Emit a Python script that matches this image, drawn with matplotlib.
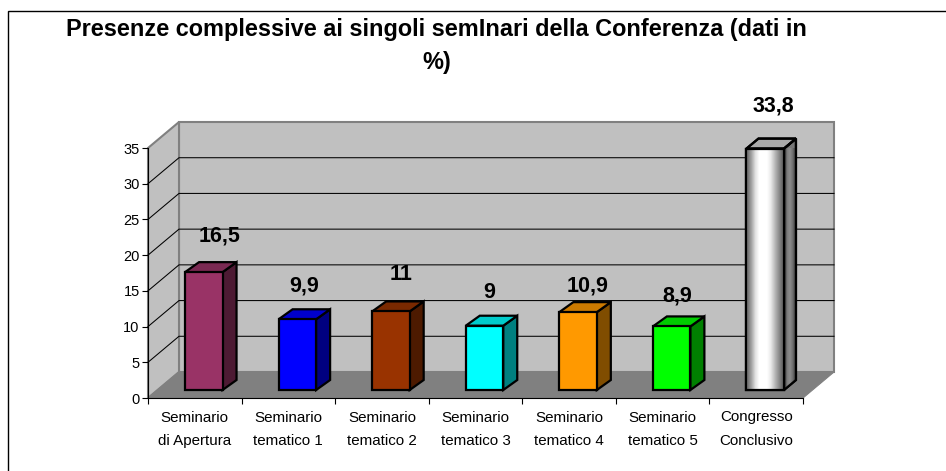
import numpy as np
import matplotlib
matplotlib.use("Agg")
import matplotlib.pyplot as plt
from matplotlib.lines import Line2D
from matplotlib.patches import Polygon, Rectangle

categories = ["Seminario\ndi Apertura", "Seminario\ntematico 1", "Seminario\ntematico 2",
              "Seminario\ntematico 3", "Seminario\ntematico 4", "Seminario\ntematico 5",
              "Congresso\nConclusivo"]
values = [16.5, 9.9, 11, 9, 10.9, 8.9, 33.8]
value_labels = ["16,5", "9,9", "11", "9", "10,9", "8,9", "33,8"]
front_colors = ["#993366", "#0000FF", "#993300", "#00FFFF", "#FF9900", "#00FF00", "#FFFFFF"]
side_colors = ["#4D1A33", "#000080", "#4D1A00", "#008080", "#804D00", "#008000", "#777777"]
top_colors = ["#7A2952", "#0000CC", "#7A2900", "#00CCCC", "#CC7A00", "#00CC00", "#AAAAAA"]
yticks = [0, 5, 10, 15, 20, 25, 30, 35]
title = "Presenze complessive ai singoli semInari della Conferenza (dati in\n%)"

W, H = 946, 471
plt.rcParams['font.family'] = ['Liberation Sans', 'DejaVu Sans']
fig = plt.figure(figsize=(W / 100, H / 100), dpi=100, facecolor="white")

# Frame: only its top and left edges fall inside the picture
fig.add_artist(Line2D([7.5 / W, 7.5 / W, 1], [0, 1 - 10.5 / H, 1 - 10.5 / H],
                      transform=fig.transFigure, color="black", lw=1,
                      solid_joinstyle="miter"))

L, R, T, B = 148, 803, 148, 398
ax = fig.add_axes([L / W, 1 - B / H, (R - L) / W, (B - T) / H])
ax.patch.set_visible(False)
for s in ["top", "right"]:
    ax.spines[s].set_visible(False)
for s in ["left", "bottom"]:
    ax.spines[s].set_linewidth(0.8)
    ax.spines[s].set_zorder(2)

pxx = 7 / (R - L)
pxy = 35 / (B - T)
DX, DY = 31 * pxx, 26 * pxy
ymax = 35

# Walls
ax.add_patch(Polygon([(DX, DY), (7 + DX, DY), (7 + DX, ymax + DY), (DX, ymax + DY)],
                     fc="#C0C0C0", ec="#808080", lw=1.5, clip_on=False, zorder=0))
ax.add_patch(Polygon([(0, 0), (DX, DY), (DX, ymax + DY), (0, ymax)],
                     fc="#C0C0C0", ec="#808080", lw=1.5, clip_on=False, zorder=0))
ax.add_patch(Polygon([(0, 0), (7, 0), (7 + DX, DY), (DX, DY)],
                     fc="#808080", ec="#808080", lw=0.8, clip_on=False, zorder=0.5))

# Gridlines
for y in yticks[1:-1]:
    ax.plot([0, DX, 7 + DX], [y, y + DY, y + DY], color="black", lw=0.75,
            clip_on=False, zorder=1, solid_joinstyle="miter")

# Bars
bw = 37.5 * pxx
bdx, bdy = 14 * pxx, 10 * pxy
ox, oy = 9 * pxx, 8 * pxy
centers = np.arange(7) + 0.5
lefts = centers + ox - bw / 2
lw = 1.6


def gradient_face(levels, extent, poly, zorder):
    im = ax.imshow(np.array(levels)[None, :], cmap="gray", vmin=0, vmax=1, extent=extent,
                   aspect="auto", interpolation="bilinear", zorder=zorder, clip_on=True)
    im.set_clip_path(poly)


for i, v in enumerate(values):
    depth_x = bdx if i < 6 else 12 * pxx
    x0, x1, y0, y1 = lefts[i], lefts[i] + bw, oy, oy + v
    side = Polygon([(x1, y0), (x1 + depth_x, y0 + bdy), (x1 + depth_x, y1 + bdy), (x1, y1)],
                   fc=side_colors[i], ec="black", lw=lw, clip_on=False, zorder=3)
    top = Polygon([(x0, y1), (x1, y1), (x1 + depth_x, y1 + bdy), (x0 + depth_x, y1 + bdy)],
                  fc=top_colors[i], ec="black", lw=lw, clip_on=False, zorder=3)
    ax.add_patch(side)
    ax.add_patch(top)
    ax.bar(x0, v, width=bw, bottom=y0, align="edge", color=front_colors[i],
           edgecolor="black", linewidth=lw, zorder=4, clip_on=False)
    if i == 6:
        gradient_face([0.45, 0.65, 0.88, 1, 1, 1, 0.92, 0.75, 0.58, 0.42],
                      [x0, x1, y0, y1], Rectangle((x0, y0), bw, v, transform=ax.transData), 4.2)
        ax.add_patch(Rectangle((x0, y0), bw, v, fill=False, ec="black", lw=lw,
                               zorder=4.5, clip_on=False))
        gradient_face([0.4, 0.6, 0.75, 0.85, 0.75, 0.6, 0.4],
                      [x0, x1 + depth_x, y1, y1 + bdy], top, 3.2)
        gradient_face([0.3, 0.5, 0.55, 0.45, 0.3],
                      [x1, x1 + depth_x, y0, y1 + bdy], side, 3.2)
        for face in (side, top):
            ax.add_patch(Polygon(face.get_xy(), fill=False, ec="black", lw=lw,
                                 clip_on=False, zorder=3.5))

ax.set_xlim(0, 7)
ax.set_ylim(0, 35)

# Value labels: pixel offsets from each bar's top centre
label_dx = [15.5, 6.3, 10, 5, 9, 6, 8]
label_dy = [36, 33, 37, 33, 26, 30, 43]
for i, v in enumerate(values):
    ax.annotate(value_labels[i], (lefts[i] + bw / 2, oy + v),
                xytext=(label_dx[i] * 0.72, label_dy[i] * 0.72), textcoords="offset points",
                ha="center", va="center", fontsize=15.5, fontweight="bold",
                color="black", zorder=6, annotation_clip=False)

# Axes ticks
ax.set_yticks(yticks)
ax.set_yticklabels([str(t) for t in yticks], fontsize=10.5)
ax.tick_params(axis="y", length=4, width=0.8, pad=2)
ax.set_xticks(np.arange(8))
ax.set_xticklabels([])
ax.tick_params(axis="x", which="major", length=4.5, width=0.8)
ax.set_xticks(centers, minor=True)
ax.set_xticklabels(categories, minor=True, fontsize=10.9, linespacing=1.85)
ax.tick_params(axis="x", which="minor", length=0, pad=9)

fig.text(436.5 / W, 1 - 46 / H, title, ha="center", va="center", fontsize=16.9,
         fontweight="bold", linespacing=1.55, color="black")

fig.savefig("out.png", dpi=100)
